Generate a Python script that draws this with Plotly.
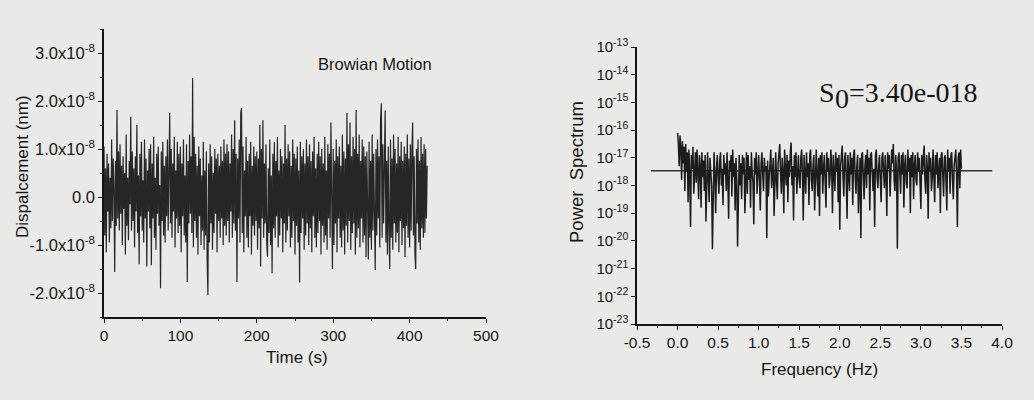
import numpy as np
import plotly.graph_objects as go

# Brownian displacement record, one sample per second, in units of 1e-10 nm
DISP_E10 = [
    105, -80, 60, -115, 90, -30, 70, -95, 40, -65, 120, -50, 80, 20, -156, 75, -60, 181, -45, 95,
    -70, 110, -35, 65, -100, 85, -25, 50, -120, 130, -60, 40, -90, 75, -15, 167, -70, 95, -50, 60,
    -105, 85, -30, 150, -75, 45, -140, 90, -40, 115, -70, 35, -95, 120, -45, 80, -145, 55, -30, 100,
    -65, 110, -142, 70, -45, 125, -85, 40, -110, 90, -35, 105, -60, 25, -190, 95, -50, 115, -80, 65,
    -95, 85, -40, 120, -70, 50, 175, -55, 100, -85, 70, -30, 125, -105, 55, -45, 115, -75, 90, -60,
    105, -115, 70, -40, 120, -80, 45, -95, 110, -177, 75, -55, 130, -35, 85, -75, 248, -105, 125, -50,
    90, -85, 65, -120, 105, -40, 80, -100, 45, -70, 115, -110, 55, -80, 95, -130, -204, 70, -95, 110,
    -55, 85, -110, 50, -75, 100, -35, 80, -115, 90, -50, 65, -85, 105, -45, 75, -100, 120, -60, 90,
    -80, 110, -50, 95, -95, 70, -30, 130, -85, 100, -55, 160, -70, 90, -177, 80, -45, 120, -95, 175,
    185, -75, 105, -115, 55, -40, 125, -85, 75, -105, 90, -40, 115, -120, 65, -60, 105, -80, 85, -50,
    95, -110, 80, -65, 150, -145, 100, -45, 160, -85, 70, -55, 110, -95, -125, 60, -75, 120, -100, 45,
    -159, 90, -65, 115, -85, 75, -40, 125, -105, 55, -80, 100, -45, 85, -115, 70, -55, 150, -95, 80,
    -70, 110, -40, 95, -105, 65, -85, 120, -50, 90, -120, 80, -60, 105, -95, 55, -178, 115, -75, 85,
    -45, 100, -110, 70, -80, 120, -55, 85, -100, 110, -65, 75, -115, 95, -40, 125, -85, 60, -105, 90,
    -75, 115, -50, 85, -120, 100, -60, 70, -95, 125, -80, 55, -110, 110, -45, 90, -85, 155, -70, -150,
    100, -100, 75, -55, 120, -115, 85, -45, 105, -85, 65, -105, 130, -70, 95, -120, 80, -60, 175, -95,
    110, -50, 155, -110, 85, -75, 125, -55, 100, -120, 181, -85, 90, -65, 130, -105, 75, -45, 120, -95,
    105, -80, 85, -125, 95, -60, -130, 115, -85, 75, -110, 130, -70, 90, -55, -152, 100, -80, 120, -45,
    85, -105, 160, 195, -85, 110, -55, 95, 180, -95, 75, -120, 105, -65, -150, 120, -85, 80, -110, 130,
    -55, 100, -95, 70, -75, 125, -115, 85, -50, 115, -100, 75, -65, 105, -125, 90, -60, 130, -85, 80,
    -105, 110, -70, 95, 155, -80, 85, -120, -150, 100, -55, 120, -95, 75, -110, 125, -65, 90, -85, 110,
    -75, 100, -45, 65,
]
SAMPLE_STEP_S = 1.0

# Power spectral density, log10 of the power, 0.01 Hz bins from 0 Hz
PSD_LOG10 = [
    -16.1, -16.5, -17.3, -16.2, -16.6, -17.8, -16.4, -17.2, -16.6, -18.2, -16.5, -17.5, -16.8, -18.6, -16.7, -17.6, -19.5, -16.9, -17.4, -16.6, -18.3, -17.1, -16.8, -17.9, -16.7,
    -17.5, -18.5, -16.9, -17.3, -18.8, -16.8, -17.7, -17.1, -18.2, -16.9, -19.3, -17.4, -16.8, -17.8, -18.6, -17.0, -17.5, -18.0, -20.3, -17.2, -16.8, -17.6, -19.0, -17.4, -16.9,
    -17.7, -18.3, -17.1, -16.8, -18.0, -17.4, -18.7, -16.9, -17.6, -17.2, -18.2, -16.8, -17.8, -19.2, -17.1, -17.5, -16.9, -18.4, -16.7, -17.7, -17.2, -18.9, -17.0, -17.8, -20.2,
    -17.4, -16.9, -18.0, -17.2, -18.5, -16.9, -17.6, -17.0, -19.0, -17.5, -16.8, -18.3, -16.9, -17.8, -17.3, -18.8, -16.8, -17.5, -17.9, -19.4, -17.0, -17.6, -16.8, -18.3, -17.3,
    -16.9, -17.8, -18.9, -17.2, -16.8, -17.6, -18.2, -17.0, -17.5, -17.3, -19.9, -17.1, -18.4, -17.7, -16.9, -16.7, -18.1, -17.5, -17.0, -19.1, -17.3, -16.8, -17.8, -18.5, -17.2,
    -16.8, -16.5, -17.6, -18.3, -17.0, -17.5, -19.0, -16.7, -17.4, -18.0, -16.9, -18.6, -17.1, -17.7, -16.8, -16.45, -18.0, -17.3, -19.26, -16.9, -17.7, -16.8, -18.3, -17.4, -16.9,
    -17.8, -18.1, -17.0, -16.7, -17.6, -19.26, -16.9, -17.5, -18.3, -16.8, -17.7, -17.2, -18.7, -16.9, -16.7, -17.8, -18.2, -17.3, -16.9, -18.9, -17.5, -16.7, -17.7, -18.4, -17.0,
    -19.1, -16.9, -17.6, -16.8, -18.3, -17.4, -16.9, -17.9, -18.8, -16.8, -17.5, -17.0, -18.1, -17.7, -16.7, -17.4, -19.0, -16.9, -17.6, -18.2, -16.8, -17.5, -17.0, -18.6, -16.9,
    -19.6, -17.3, -16.9, -16.56, -17.7, -18.4, -17.0, -16.8, -17.8, -19.2, -16.9, -17.5, -18.2, -16.8, -17.6, -17.0, -18.7, -16.9, -16.7, -17.7, -18.3, -17.3, -16.9, -19.0, -17.5,
    -17.0, -19.9, -16.9, -16.8, -17.9, -18.5, -17.3, -16.9, -18.1, -16.7, -17.6, -17.0, -18.9, -16.9, -16.8, -17.8, -18.2, -17.4, -19.5, -16.9, -16.7, -17.7, -18.1, -17.3, -16.9,
    -17.8, -18.6, -17.0, -16.8, -17.5, -18.1, -16.9, -17.6, -19.1, -16.8, -17.4, -16.9, -18.4, -17.7, -16.7, -17.2, -16.5, -17.8, -18.2, -16.9, -17.5, -20.27, -17.0, -16.8, -17.8,
    -18.3, -16.9, -17.6, -16.8, -18.8, -17.3, -16.9, -17.9, -18.1, -16.7, -17.5, -17.0, -19.0, -16.9, -17.7, -16.8, -18.5, -17.3, -16.9, -17.8, -18.0, -16.8, -17.5, -17.0, -18.7,
    -18.85, -16.9, -17.6, -17.0, -16.56, -17.8, -18.3, -16.9, -17.4, -19.2, -16.8, -17.5, -17.0, -18.2, -17.7, -16.7, -17.4, -18.6, -16.9, -17.6, -16.8, -18.1, -17.5, -17.0, -19.0,
    -16.9, -16.8, -17.7, -18.4, -17.0, -16.9, -17.9, -18.9, -16.7, -17.5, -17.0, -18.3, -16.9, -16.8, -17.8, -18.5, -17.3, -16.9, -16.7, -17.6, -19.5, -17.0, -16.8, -18.1, -16.7,
    -17.4,
]
FREQ_STEP_HZ = 0.01

# White-noise level of the spectrum and the span of its fitted line
S0 = 3.40e-18
FIT_FREQ = [-0.33, 3.88]

# Tick labels
DISP_TICKS = [-2e-8, -1e-8, 0.0, 1e-8, 2e-8, 3e-8]
DISP_TICK_TEXT = ["-2.0x10<sup>-8</sup>", "-1.0x10<sup>-8</sup>", "0.0",
                  "1.0x10<sup>-8</sup>", "2.0x10<sup>-8</sup>", "3.0x10<sup>-8</sup>"]
TIME_TICKS = [0, 100, 200, 300, 400, 500]
FREQ_TICKS = [-0.5, 0.0, 0.5, 1.0, 1.5, 2.0, 2.5, 3.0, 3.5, 4.0]
PSD_EXPONENTS = list(range(-23, -12))

disp = np.array(DISP_E10) * 1e-10
time = np.arange(len(disp)) * SAMPLE_STEP_S
psd = 10.0 ** np.array(PSD_LOG10)
freq = np.arange(len(psd)) * FREQ_STEP_HZ

W, H = 1034, 400
BG = "#e9e9e7"
INK = "#151515"
SANS = "Liberation Sans, Arial, sans-serif"
SERIF = "Liberation Serif, Times New Roman, serif"


def fx(px):
    return px / W


def fy(py):
    return 1 - py / H


fig = go.Figure()

fig.add_trace(go.Scatter(
    x=time, y=disp, mode="lines", xaxis="x", yaxis="y",
    line=dict(color="#262626", width=1.2), showlegend=False,
))
fig.add_trace(go.Scatter(
    x=FIT_FREQ, y=[S0, S0], mode="lines", xaxis="x2", yaxis="y2",
    line=dict(color="#303030", width=1.5), showlegend=False,
))
fig.add_trace(go.Scatter(
    x=freq, y=psd, mode="lines", xaxis="x2", yaxis="y2",
    line=dict(color="#1c1c1c", width=1.5), showlegend=False,
))

axis_common = dict(
    showgrid=False, zeroline=False, showline=True, linecolor=INK, linewidth=1.5,
    ticks="outside", ticklen=4, tickwidth=1.3, tickcolor=INK, automargin=False,
)

fig.update_layout(
    width=W, height=H,
    margin=dict(l=0, r=0, t=0, b=0, pad=0),
    paper_bgcolor=BG, plot_bgcolor=BG,
    xaxis=dict(
        domain=[fx(104), fx(486)], range=[0, 500], anchor="y",
        tickmode="array", tickvals=TIME_TICKS,
        tickfont=dict(family=SANS, size=15.5, color=INK),
        minor=dict(ticks="outside", ticklen=2, dtick=50, tickcolor=INK),
        **axis_common,
    ),
    yaxis=dict(
        domain=[fy(317), fy(29)], range=[-2.5e-8, 3.5e-8], anchor="x",
        tickmode="array", tickvals=DISP_TICKS, ticktext=DISP_TICK_TEXT,
        tickfont=dict(family=SANS, size=16.5, color=INK),
        minor=dict(ticks="outside", ticklen=2, dtick=0.5e-8, tickcolor=INK),
        **axis_common,
    ),
    xaxis2=dict(
        domain=[fx(637), fx(1002)], range=[-0.5, 4.0], anchor="y2",
        tickmode="array", tickvals=FREQ_TICKS,
        ticktext=[f"{v:.1f}" for v in FREQ_TICKS],
        tickfont=dict(family=SANS, size=15.5, color=INK),
        minor=dict(ticks="outside", ticklen=2, dtick=0.25, tickcolor=INK),
        **axis_common,
    ),
    yaxis2=dict(
        domain=[fy(324), fy(47)], type="log", range=[-23, -13], anchor="x2",
        tickmode="array", tickvals=[10.0 ** e for e in PSD_EXPONENTS],
        ticktext=[f"10<sup>{e}</sup>" for e in PSD_EXPONENTS],
        tickfont=dict(family=SANS, size=15, color=INK),
        **axis_common,
    ),
)

annotations = [
    dict(text="Browian Motion", x=fx(375), y=fy(64), size=16.5, family=SANS, angle=0),
    dict(text="Time (s)", x=fx(297), y=fy(357), size=17, family=SANS, angle=0),
    dict(text="Frequency (Hz)", x=fx(819), y=fy(369), size=17, family=SANS, angle=0),
    dict(text="Dispalcement (nm)", x=fx(22), y=fy(167), size=17, family=SANS, angle=-90),
    dict(text="Power\u00a0 Spectrum", x=fx(577), y=fy(172), size=18.5, family=SANS, angle=-90),
]
for a in annotations:
    fig.add_annotation(
        text=a["text"], x=a["x"], y=a["y"], xref="paper", yref="paper",
        xanchor="center", yanchor="middle", showarrow=False, textangle=a["angle"],
        font=dict(family=a["family"], size=a["size"], color=INK),
    )

# S0 label: symbol, full-size lowered subscript, then the value
for text, left, mid in [("S", 818, 92), ("0", 834, 98), ("=3.40e-018", 848, 92)]:
    fig.add_annotation(
        text=text, x=fx(left), y=fy(mid), xref="paper", yref="paper",
        xanchor="left", yanchor="middle", showarrow=False,
        font=dict(family=SERIF, size=28, color=INK), borderpad=0,
    )

fig.write_html("out.html")
